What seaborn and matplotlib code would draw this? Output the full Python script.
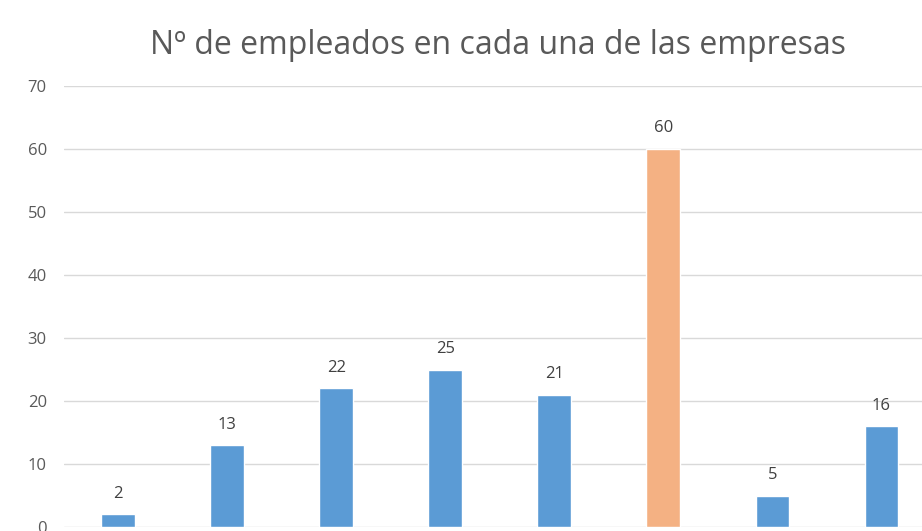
import matplotlib
matplotlib.use('Agg')
import matplotlib.pyplot as plt
import seaborn as sns
import pandas as pd

# Datos
empresas = ['Empresa 1', 'Empresa 2', 'Empresa 3', 'Empresa 4',
            'Empresa 5', 'Empresa 6', 'Empresa 7', 'Empresa 8']
empleados = [2, 13, 22, 25, 21, 60, 5, 16]
colores = ['#5B9BD5', '#5B9BD5', '#5B9BD5', '#5B9BD5',
           '#5B9BD5', '#F4B183', '#5B9BD5', '#5B9BD5']
y_ticks = [0, 10, 20, 30, 40, 50, 60, 70]

df = pd.DataFrame({'empresa': empresas, 'empleados': empleados})

sns.set_style('white')
plt.rcParams['font.family'] = ['Open Sans', 'DejaVu Sans']

fig = plt.figure(figsize=(9.22, 5.31), dpi=100)
# el gráfico original está recortado por abajo y por la derecha
ax = fig.add_axes([63.5 / 922, 4 / 531, (936 - 63.5) / 922, (527 - 86) / 531])

sns.barplot(data=df, x='empresa', y='empleados', hue='empresa',
            palette=colores, saturation=1, width=0.31, legend=False,
            ax=ax, zorder=3)

for cont in ax.containers:
    ax.bar_label(cont, padding=9, fontsize=12, color='#404040')

ax.set_ylim(0, 70)
ax.set_xlim(-0.5, len(empresas) - 0.5)
ax.set_yticks(y_ticks)
ax.yaxis.grid(True, color='#D9D9D9', linewidth=1, zorder=0)
ax.tick_params(axis='y', length=0, pad=12, labelsize=12, labelcolor='#595959')
ax.tick_params(axis='x', length=0)
ax.set_xticklabels([])
ax.set_xlabel('')
ax.set_ylabel('')
for s in ax.spines.values():
    s.set_visible(False)

fig.text(498 / 922, 1 - 45 / 531, 'Nº de empleados en cada una de las empresas',
         ha='center', va='center', fontsize=23, color='#595959')

fig.savefig('out.png', dpi=100)
